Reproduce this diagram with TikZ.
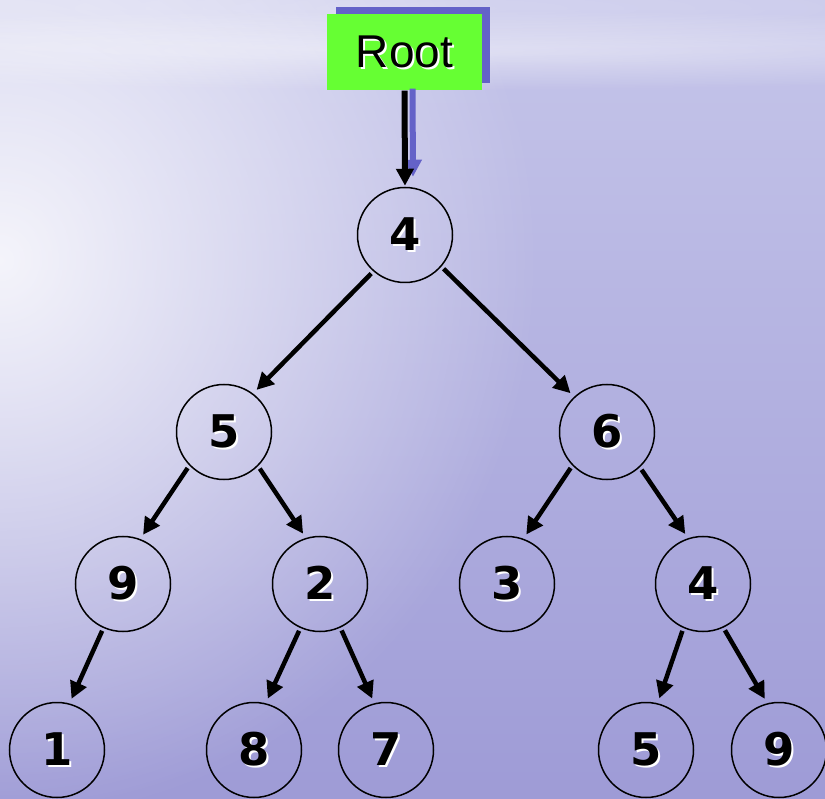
\documentclass[tikz,border=0pt]{standalone}
\usepackage{fontspec}
\setmainfont{DejaVu Sans}
\newfontfamily\rootfont{Liberation Sans}
\usetikzlibrary{arrows.meta,fadings}
\definecolor{bgtop}{RGB}{198,198,234}
\definecolor{bgmid}{RGB}{172,170,222}
\definecolor{bgbot}{RGB}{158,155,214}
\definecolor{rootgreen}{RGB}{102,255,51}
\definecolor{shadowblue}{RGB}{100,98,200}
\tikzfading[name=softblob, inner color=transparent!0, outer color=transparent!100]
\newcommand\shtxt[1]{\makebox[0pt][l]{\hspace{2pt}\raisebox{-2pt}{\color{white}#1}}#1}
\tikzset{
  tn/.style={circle, draw=black, line width=1.5pt, minimum size=95pt, inner sep=0pt,
             font=\fontsize{45}{50}\selectfont\bfseries},
  ed/.style={line width=4.5pt, -{Triangle[width=17pt,length=17pt]}, shorten >=5pt, shorten <=3pt},
}
\begin{document}
\begin{tikzpicture}[x=1pt,y=-1pt]
\useasboundingbox (0,0) rectangle (825,799);
\begin{scope}
\clip (0,0) rectangle (825,799);
\shade[top color=bgtop, middle color=bgmid, bottom color=bgbot] (0,0) rectangle (825,799);
\fill[white, opacity=0.85, path fading=softblob] (0,260) ellipse [x radius=540pt, y radius=560pt];
\fill[white, opacity=0.45, path fading=softblob] (420,50) ellipse [x radius=900pt, y radius=40pt];
\fill[white, opacity=0.25, path fading=softblob] (420,8) ellipse [x radius=900pt, y radius=60pt];
\end{scope}

% Root box with shadow
\fill[shadowblue] (336,7) rectangle (490,83);
\node[fill=rootgreen, minimum width=155pt, minimum height=76pt, inner sep=0pt,
      font=\rootfont\fontsize{46}{50}\selectfont] (root) at (404.5,52.5) {\shtxt{Root}};

% tree nodes
\node[tn] (a) at (405,235) {\shtxt{4}};
\node[tn] (b) at (224,432) {\shtxt{5}};
\node[tn] (c) at (607,432) {\shtxt{6}};
\node[tn] (d) at (123,584) {\shtxt{9}};
\node[tn] (e) at (320,584) {\shtxt{2}};
\node[tn] (f) at (507,584) {\shtxt{3}};
\node[tn] (g) at (703,584) {\shtxt{4}};
\node[tn] (h) at (57,750) {\shtxt{1}};
\node[tn] (i) at (254,750) {\shtxt{8}};
\node[tn] (j) at (386,750) {\shtxt{7}};
\node[tn] (k) at (646,750) {\shtxt{5}};
\node[tn] (l) at (779,750) {\shtxt{9}};

% root arrow with shadow
\draw[shadowblue, line width=6pt, -{Triangle[width=17pt,length=17pt]}]
  ([xshift=8pt,yshift=2pt]root.south) -- ([xshift=8pt,yshift=10pt]a.north);
\draw[black, line width=6pt, -{Triangle[width=17pt,length=17pt]}, shorten >=1pt]
  (root.south) -- (a.north);

% edges
\draw[ed] (a.229) -- (b.53);
\draw[ed] (a.319) -- (c.133);
\draw[ed] (b.224) -- (d.69);
\draw[ed] (b.315) -- (e.107);
\draw[ed] (c.224) -- (f.70);
\draw[ed] (c.313) -- (g.108);
\draw[ed] (d.246) -- (h.75);
\draw[ed] (e.246) -- (i.76);
\draw[ed] (e.295) -- (j.104);
\draw[ed] (g.246) -- (k.76);
\draw[ed] (g.295) -- (l.104);
\end{tikzpicture}
\end{document}
